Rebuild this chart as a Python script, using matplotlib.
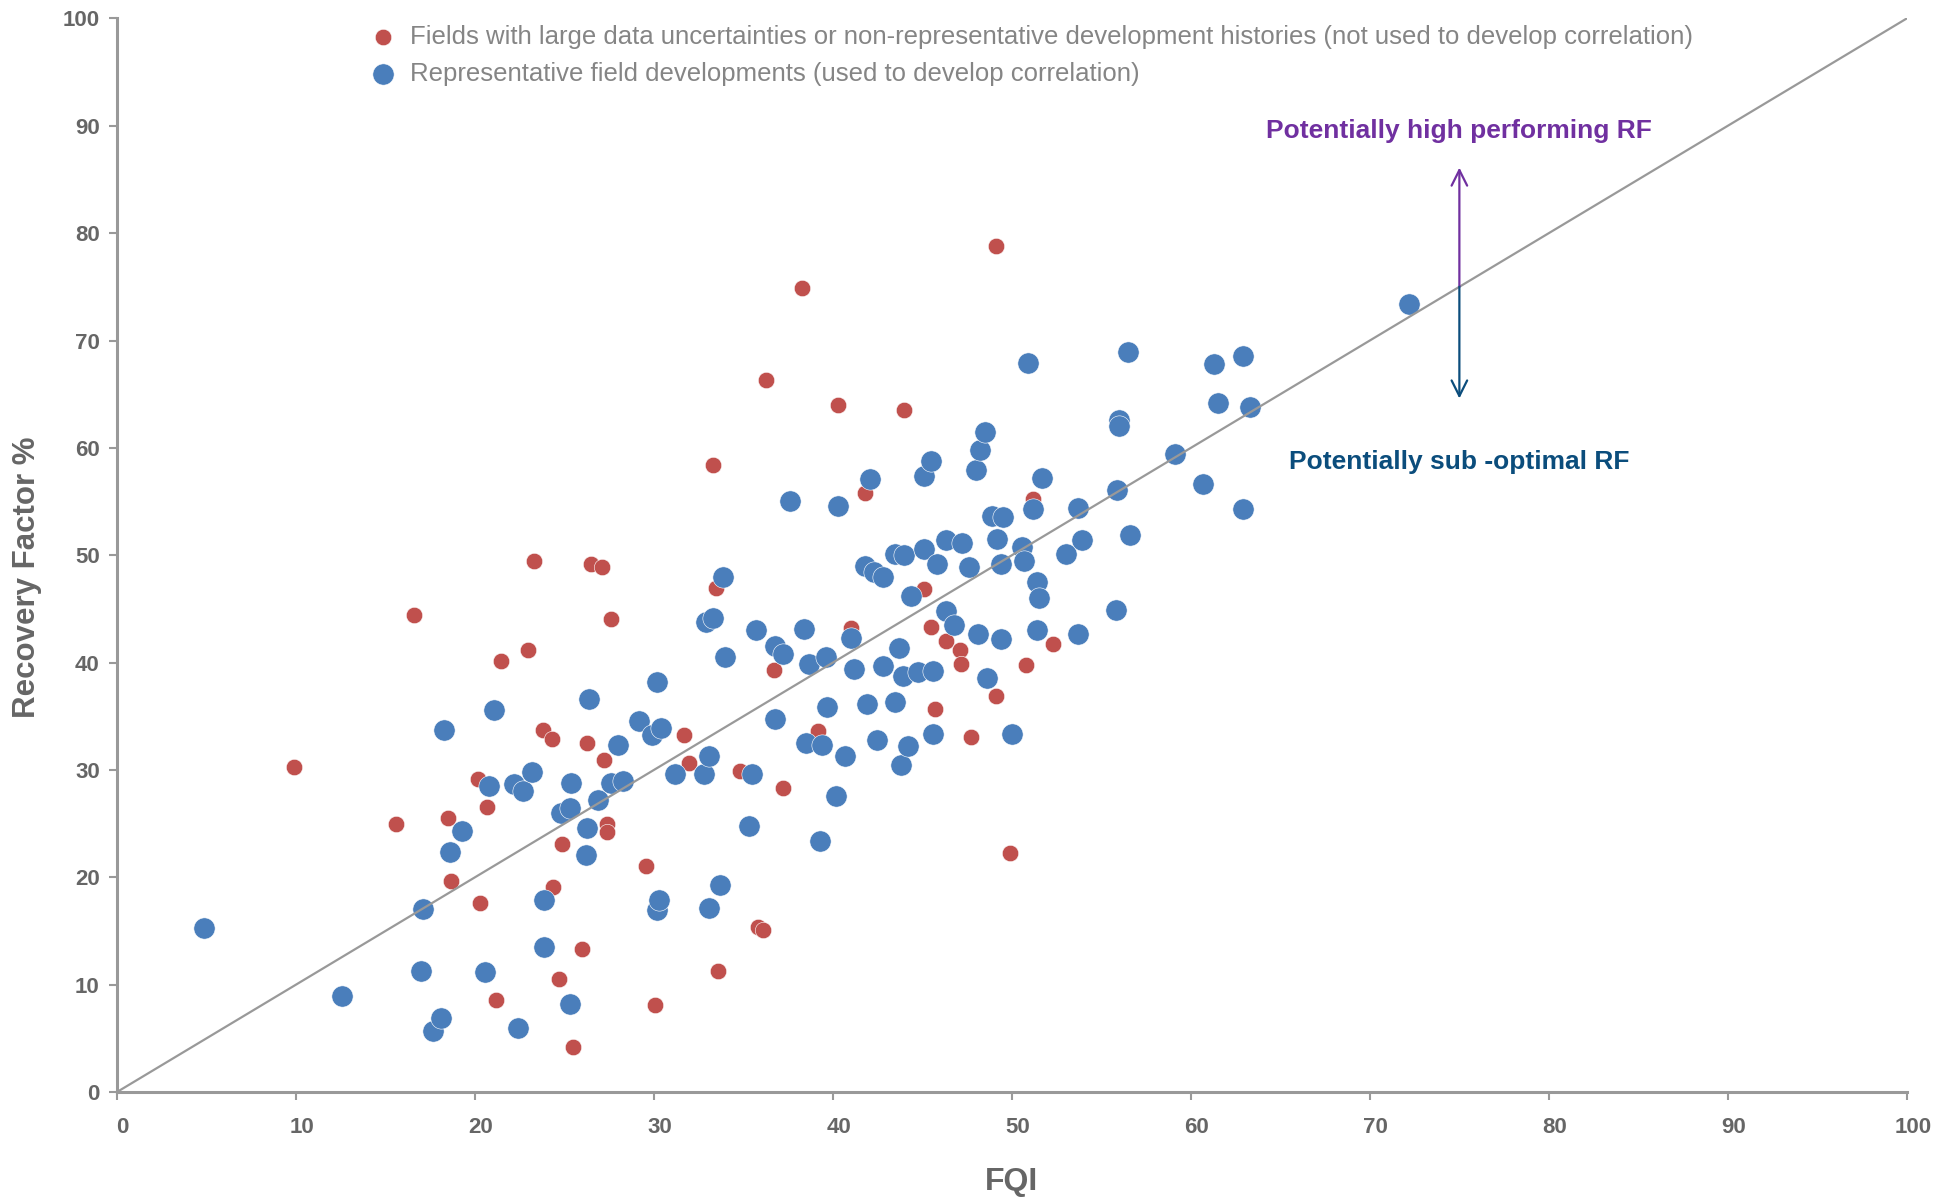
import matplotlib
matplotlib.use("Agg")
import matplotlib.pyplot as plt
import matplotlib.transforms as mtransforms

# ================= DATA =================
# representative field developments (used to develop correlation)
blue_fqi = [4.9, 12.6, 17.7, 18.1, 17.0, 17.1, 18.6, 19.3, 18.3, 21.1,
            20.8, 20.6, 22.4, 22.2, 22.7, 23.2, 23.9, 23.9, 25.3, 24.8,
            25.3, 25.4, 26.2, 26.3, 26.4, 26.9, 27.6, 28.3, 28.0, 29.2,
            29.9, 30.4, 30.2, 30.2, 30.3, 31.2, 32.8, 33.1, 33.1, 33.7,
            32.9, 33.3, 33.9, 34.0, 35.3, 35.5, 35.7, 36.8, 37.2, 36.8,
            37.6, 38.4, 38.5, 38.7, 39.4, 39.65, 39.3, 39.7, 40.2, 40.3,
            40.7, 41.0, 41.2, 41.8, 42.3, 42.8, 42.1, 41.9, 42.5, 42.8,
            43.5, 44.0, 43.7, 43.5, 43.8, 44.2, 44.4, 43.9, 44.75, 45.1,
            45.1, 45.5, 45.6, 45.8, 45.6, 46.3, 46.3, 46.8, 47.2, 47.6,
            48.0, 48.25, 48.5, 48.1, 48.6, 48.9, 49.2, 49.5, 49.4, 49.4,
            50.0, 50.6, 50.7, 50.9, 51.2, 51.4, 51.5, 51.4, 51.7, 53.05,
            53.7, 53.9, 53.7, 55.8, 55.9, 56.0, 56.0, 56.5, 56.6, 59.1,
            60.7, 61.3, 61.5, 62.9, 62.9, 63.3, 72.2]
blue_rf = [15.3, 9.0, 5.7, 6.9, 11.3, 17.1, 22.4, 24.3, 33.75, 35.6,
           28.5, 11.2, 6.0, 28.7, 28.1, 29.8, 17.9, 13.5, 8.2, 26.0,
           26.5, 28.8, 22.1, 24.6, 36.6, 27.2, 28.8, 29.0, 32.3, 34.6,
           33.3, 33.9, 38.2, 17.0, 17.9, 29.6, 29.6, 31.3, 17.2, 19.3,
           43.8, 44.2, 48.0, 40.5, 24.75, 29.6, 43.0, 41.6, 40.8, 34.8,
           55.1, 43.1, 32.5, 39.9, 32.3, 40.5, 23.4, 35.9, 27.6, 54.6,
           31.3, 42.3, 39.4, 49.0, 48.4, 48.0, 57.1, 36.2, 32.8, 39.7,
           50.1, 50.0, 41.4, 36.3, 30.5, 32.2, 46.2, 38.8, 39.1, 50.6,
           57.4, 58.8, 39.2, 49.2, 33.4, 51.4, 44.8, 43.5, 51.1, 48.9,
           57.9, 59.8, 61.5, 42.7, 38.6, 53.7, 51.5, 53.6, 49.2, 42.2,
           33.4, 50.8, 49.5, 67.9, 54.3, 47.5, 46.0, 43.0, 57.2, 50.1,
           54.4, 51.4, 42.7, 44.9, 56.1, 62.6, 62.0, 68.9, 51.9, 59.4,
           56.6, 67.8, 64.2, 68.6, 54.3, 63.8, 73.4]

# fields with large data uncertainties / non-representative histories
red_fqi = [49.1, 38.3, 36.3, 40.3, 44.0, 33.3, 41.8, 51.2, 23.3, 26.5,
           27.1, 27.6, 16.6, 33.5, 45.1, 41.0, 45.5, 46.35, 47.1, 47.15,
           52.3, 50.8, 21.5, 23.0, 36.7, 49.1, 45.7, 39.7, 23.8, 24.3,
           26.3, 27.2, 31.7, 39.2, 47.75, 32.0, 34.8, 37.25, 9.9, 15.6,
           18.5, 20.7, 20.2, 27.4, 27.4, 24.9, 29.6, 18.7, 24.4, 20.3,
           35.8, 36.1, 26.0, 33.6, 24.7, 21.2, 30.1, 25.5, 49.9]
red_rf = [78.8, 74.9, 66.3, 64.0, 63.5, 58.4, 55.8, 55.2, 49.5, 49.2,
          48.9, 44.1, 44.4, 47.0, 46.9, 43.2, 43.3, 42.0, 41.2, 39.9,
          41.7, 39.8, 40.2, 41.2, 39.3, 36.9, 35.7, 35.9, 33.75, 32.9,
          32.5, 30.9, 33.3, 33.6, 33.1, 30.7, 29.9, 28.3, 30.3, 25.0,
          25.5, 26.6, 29.2, 25.0, 24.2, 23.1, 21.1, 19.7, 19.1, 17.6,
          15.4, 15.1, 13.35, 11.3, 10.55, 8.6, 8.1, 4.2, 22.3]

ticks = [0, 10, 20, 30, 40, 50, 60, 70, 80, 90, 100]

RED = "#c0504d"
BLUE = "#4a7ebb"
PURPLE = "#7030a0"
NAVY = "#0b4d7c"
GREY = "#999999"
LABEL_GREY = "#666666"

plt.rcParams["font.family"] = ["Liberation Sans", "DejaVu Sans"]

# ================= FIGURE =================
fig = plt.figure(figsize=(19.37, 11.97), dpi=100)
ax = fig.add_axes([0.06015, 0.08747, 0.92436, 0.89724])

ax.scatter(red_fqi, red_rf, s=140, color=RED, edgecolors="white",
           linewidths=0.4, zorder=3,
           label="Fields with large data uncertainties or non-representative "
                 "development histories (not used to develop correlation)")
ax.scatter(blue_fqi, blue_rf, s=235, color=BLUE, edgecolors="white",
           linewidths=0.4, zorder=4,
           label="Representative field developments (used to develop correlation)")

# 1:1 line
ax.plot([0, 100], [0, 100], color=GREY, lw=1.6, zorder=5)

# arrows + annotations
ax.annotate("", xy=(75, 86.1), xytext=(75, 75),
            arrowprops=dict(arrowstyle="->", color=PURPLE, lw=1.6,
                            mutation_scale=28, shrinkA=0, shrinkB=0), zorder=6)
ax.annotate("", xy=(75, 64.6), xytext=(75, 75),
            arrowprops=dict(arrowstyle="->", color=NAVY, lw=1.6,
                            mutation_scale=28, shrinkA=0, shrinkB=0), zorder=6)
ax.text(75, 89.5, "Potentially high performing RF", color=PURPLE,
        fontsize=19, fontweight="bold", ha="center", va="center")
ax.text(75, 58.7, "Potentially sub -optimal RF", color=NAVY,
        fontsize=19, fontweight="bold", ha="center", va="center")

# ================= AXES STYLE =================
ax.set_xlim(0, 100)
ax.set_ylim(0, 100)
ax.set_xticks(ticks)
ax.set_yticks(ticks)
for side in ["top", "right"]:
    ax.spines[side].set_visible(False)
for side in ["left", "bottom"]:
    ax.spines[side].set_color(GREY)
    ax.spines[side].set_linewidth(2.2)

ax.tick_params(axis="both", colors=GREY, length=6, width=1.5,
               labelcolor=LABEL_GREY)
ax.tick_params(axis="x", pad=12)
ax.tick_params(axis="y", pad=6)
for lab in ax.get_xticklabels() + ax.get_yticklabels():
    lab.set_fontweight("bold")
    lab.set_fontsize(16)

# x tick labels sit a little to the right of their ticks
offset = mtransforms.ScaledTranslation(0.06, 0, fig.dpi_scale_trans)
for lab in ax.get_xticklabels():
    lab.set_transform(lab.get_transform() + offset)

ax.set_xlabel("FQI", fontsize=23, fontweight="bold", color=LABEL_GREY,
              va="center")
ax.xaxis.set_label_coords(0.50, -0.0835)
ax.set_ylabel("Recovery Factor %", fontsize=22.5, fontweight="bold",
              color=LABEL_GREY, va="center")
ax.yaxis.set_label_coords(-0.05, 0.48)

leg = ax.legend(loc="upper left", bbox_to_anchor=(0.1416, 0.9937),
                frameon=False, fontsize=18.5, scatterpoints=1,
                handlelength=1.0, handletextpad=0.55, labelspacing=0.5,
                borderpad=0, borderaxespad=0)
for t in leg.get_texts():
    t.set_color("#858585")

fig.savefig("out.png", dpi=100)
